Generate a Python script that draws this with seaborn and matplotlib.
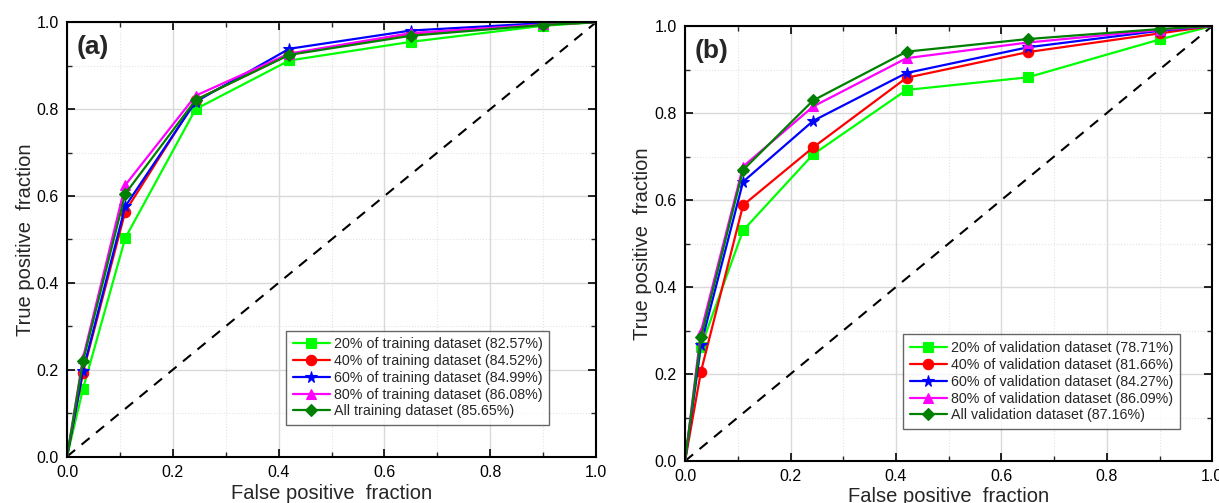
import pandas as pd
import numpy as np
import matplotlib.pyplot as plt
from matplotlib.ticker import MultipleLocator
import seaborn as sns

fpr = [0.0, 0.03, 0.11, 0.243, 0.42, 0.65, 0.90, 1.0]

train_20 = [0.0, 0.155, 0.503, 0.800, 0.912, 0.955, 0.992, 1.0]
train_40 = [0.0, 0.193, 0.564, 0.821, 0.926, 0.974, 0.995, 1.0]
train_60 = [0.0, 0.197, 0.576, 0.817, 0.939, 0.981, 0.998, 1.0]
train_80 = [0.0, 0.226, 0.625, 0.831, 0.928, 0.975, 0.995, 1.0]
train_all = [0.0, 0.219, 0.605, 0.821, 0.925, 0.969, 0.994, 1.0]

val_20 = [0.0, 0.262, 0.530, 0.705, 0.853, 0.882, 0.969, 1.0]
val_40 = [0.0, 0.205, 0.588, 0.721, 0.881, 0.940, 0.983, 1.0]
val_60 = [0.0, 0.267, 0.642, 0.782, 0.892, 0.951, 0.989, 1.0]
val_80 = [0.0, 0.297, 0.677, 0.815, 0.926, 0.962, 0.991, 1.0]
val_all = [0.0, 0.284, 0.669, 0.829, 0.941, 0.970, 0.993, 1.0]

train_labels = ["20% of training dataset (82.57%)",
                "40% of training dataset (84.52%)",
                "60% of training dataset (84.99%)",
                "80% of training dataset (86.08%)",
                "All training dataset (85.65%)"]
val_labels = ["20% of validation dataset (78.71%)",
              "40% of validation dataset (81.66%)",
              "60% of validation dataset (84.27%)",
              "80% of validation dataset (86.09%)",
              "All validation dataset (87.16%)"]

colors = ["#00ff00", "#ff0000", "#0000ff", "#ff00ff", "#008000"]
markers = ["s", "o", "*", "^", "D"]
msizes = [6.5, 7.5, 8.5, 7.5, 6.5]

sns.set_style("ticks")
plt.rcParams["font.family"] = ["Liberation Sans", "DejaVu Sans"]

fig = plt.figure(figsize=(12.19, 5.03), dpi=100)
ax_a = fig.add_axes([0.055, 0.0924, 0.434, 0.8633])
ax_b = fig.add_axes([0.562, 0.0835, 0.4325, 0.8648])


def draw_panel(ax, curves, labels, tag, leg_anchor, ypad, xpad):
    ax.grid(which="major", color="#d9d9d9", linewidth=1.0, linestyle="-")
    ax.grid(which="minor", color="#e3e3e3", linewidth=0.8, linestyle=":")
    ax.set_axisbelow(True)
    ax.plot([0, 1], [0, 1], color="black", linestyle=(0, (5, 4)), linewidth=1.5)
    for y, lab, c, m, ms in zip(curves, labels, colors, markers, msizes):
        sns.lineplot(x=fpr, y=y, ax=ax, color=c, marker=m, markersize=ms,
                     markeredgecolor=c, markeredgewidth=0.8, linewidth=1.6,
                     markevery=list(range(1, len(fpr) - 1)), label=lab)
    ax.set_xlim(0, 1)
    ax.set_ylim(0, 1)
    ax.xaxis.set_major_locator(MultipleLocator(0.2))
    ax.yaxis.set_major_locator(MultipleLocator(0.2))
    ax.xaxis.set_minor_locator(MultipleLocator(0.1))
    ax.yaxis.set_minor_locator(MultipleLocator(0.1))
    ax.tick_params(which="major", direction="in", length=6, width=1.2,
                   top=True, right=True, labelsize=11.5, pad=6, colors="black")
    ax.tick_params(which="minor", direction="in", length=3.5, width=1.0,
                   top=True, right=True)
    ax.xaxis.set_major_formatter(plt.FormatStrFormatter("%.1f"))
    ax.yaxis.set_major_formatter(plt.FormatStrFormatter("%.1f"))
    for s in ax.spines.values():
        s.set_linewidth(1.5)
        s.set_color("black")
    ax.set_xlabel("False positive  fraction", fontsize=14.5, labelpad=xpad)
    ax.set_ylabel("True positive  fraction", fontsize=14.5, labelpad=ypad)
    ax.text(0.018, 0.943, tag, transform=ax.transAxes, fontsize=19,
            fontweight="bold", va="center", ha="left")
    leg = ax.legend(loc="lower left", bbox_to_anchor=leg_anchor, fontsize=10.3,
                    frameon=True, fancybox=False, edgecolor="#404040",
                    handlelength=2.6, handletextpad=0.3, borderpad=0.45,
                    labelspacing=0.2, borderaxespad=0)
    leg.get_frame().set_linewidth(1.0)


draw_panel(ax_a, [train_20, train_40, train_60, train_80, train_all],
           train_labels, "(a)", (0.414, 0.073), 1, 3)
draw_panel(ax_b, [val_20, val_40, val_60, val_80, val_all],
           val_labels, "(b)", (0.414, 0.074), 2, 2)

fig.savefig("out.png", dpi=100)
